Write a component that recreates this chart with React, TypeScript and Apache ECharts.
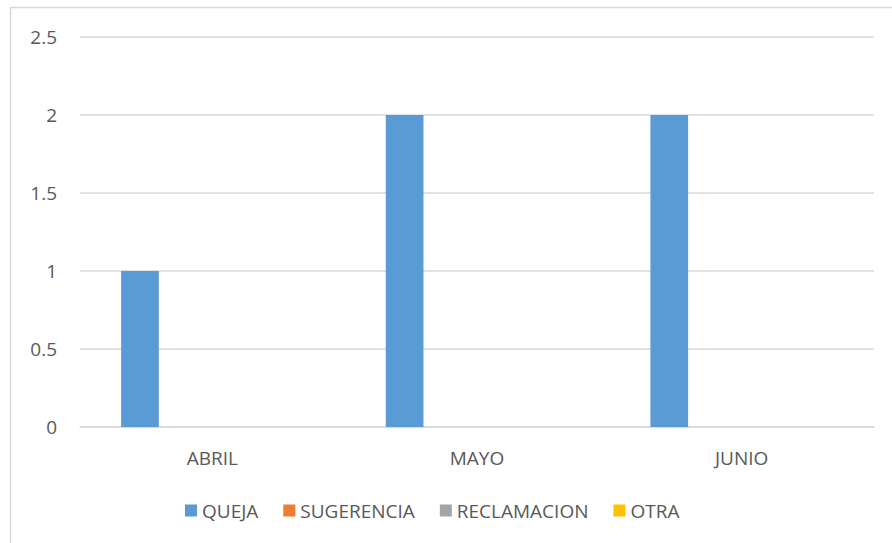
import React, { useEffect, useRef } from "react";
import * as echarts from "echarts";

const categories = ["ABRIL", "MAYO", "JUNIO"];
const seriesNames = ["QUEJA", "SUGERENCIA", "RECLAMACION", "OTRA"];
const queja = [1, 2, 2];
const sugerencia = [0, 0, 0];
const reclamacion = [0, 0, 0];
const otra = [0, 0, 0];
const colors = ["#5b9bd5", "#ed7d31", "#a5a5a5", "#ffc000"];
const yTicks = { min: 0, max: 2.5, interval: 0.5 };

const FONT = "'Open Sans', sans-serif";
const TEXT = "#595959";
const GRID = "#d9d9d9";

export default function App() {
  const ref = useRef<HTMLDivElement>(null);
  useEffect(() => {
    if (!ref.current) return;
    const chart = echarts.init(ref.current, null, { renderer: "svg" });
    const values = [queja, sugerencia, reclamacion, otra];
    chart.setOption({
      animation: false,
      backgroundColor: "#ffffff",
      textStyle: { fontFamily: FONT },
      grid: { left: 80, right: 18, top: 37, bottom: 116 },
      graphic: [
        {
          type: "rect",
          shape: { x: 10.5, y: 7.5, width: 900, height: 600 },
          style: { fill: "none", stroke: GRID, lineWidth: 1.5 },
          silent: true,
          z: -1,
        },
      ],
      xAxis: {
        type: "category",
        data: categories,
        axisLine: { lineStyle: { color: GRID, width: 1.5 } },
        axisTick: { show: false },
        axisLabel: { color: TEXT, fontSize: 19, fontFamily: FONT, margin: 21 },
      },
      yAxis: {
        type: "value",
        min: yTicks.min,
        max: yTicks.max,
        interval: yTicks.interval,
        axisLine: { show: false },
        axisTick: { show: false },
        splitLine: { lineStyle: { color: GRID, width: 1.5 } },
        axisLabel: { color: TEXT, fontSize: 19, fontFamily: FONT, margin: 23 },
      },
      legend: {
        bottom: 18,
        left: 180,
        itemWidth: 12,
        itemHeight: 12,
        itemGap: 25,
        icon: "rect",
        textStyle: { color: TEXT, fontSize: 19, fontFamily: FONT },
        data: seriesNames,
      },
      series: seriesNames.map((name, i) => ({
        name,
        type: "bar",
        data: values[i],
        barWidth: 37.7,
        barGap: "28%",
        itemStyle: { color: colors[i] },
      })),
    });
    return () => chart.dispose();
  }, []);
  return (
    <div
      ref={ref}
      style={{ position: "absolute", left: 0, top: 0, width: 892, height: 543 }}
    />
  );
}
